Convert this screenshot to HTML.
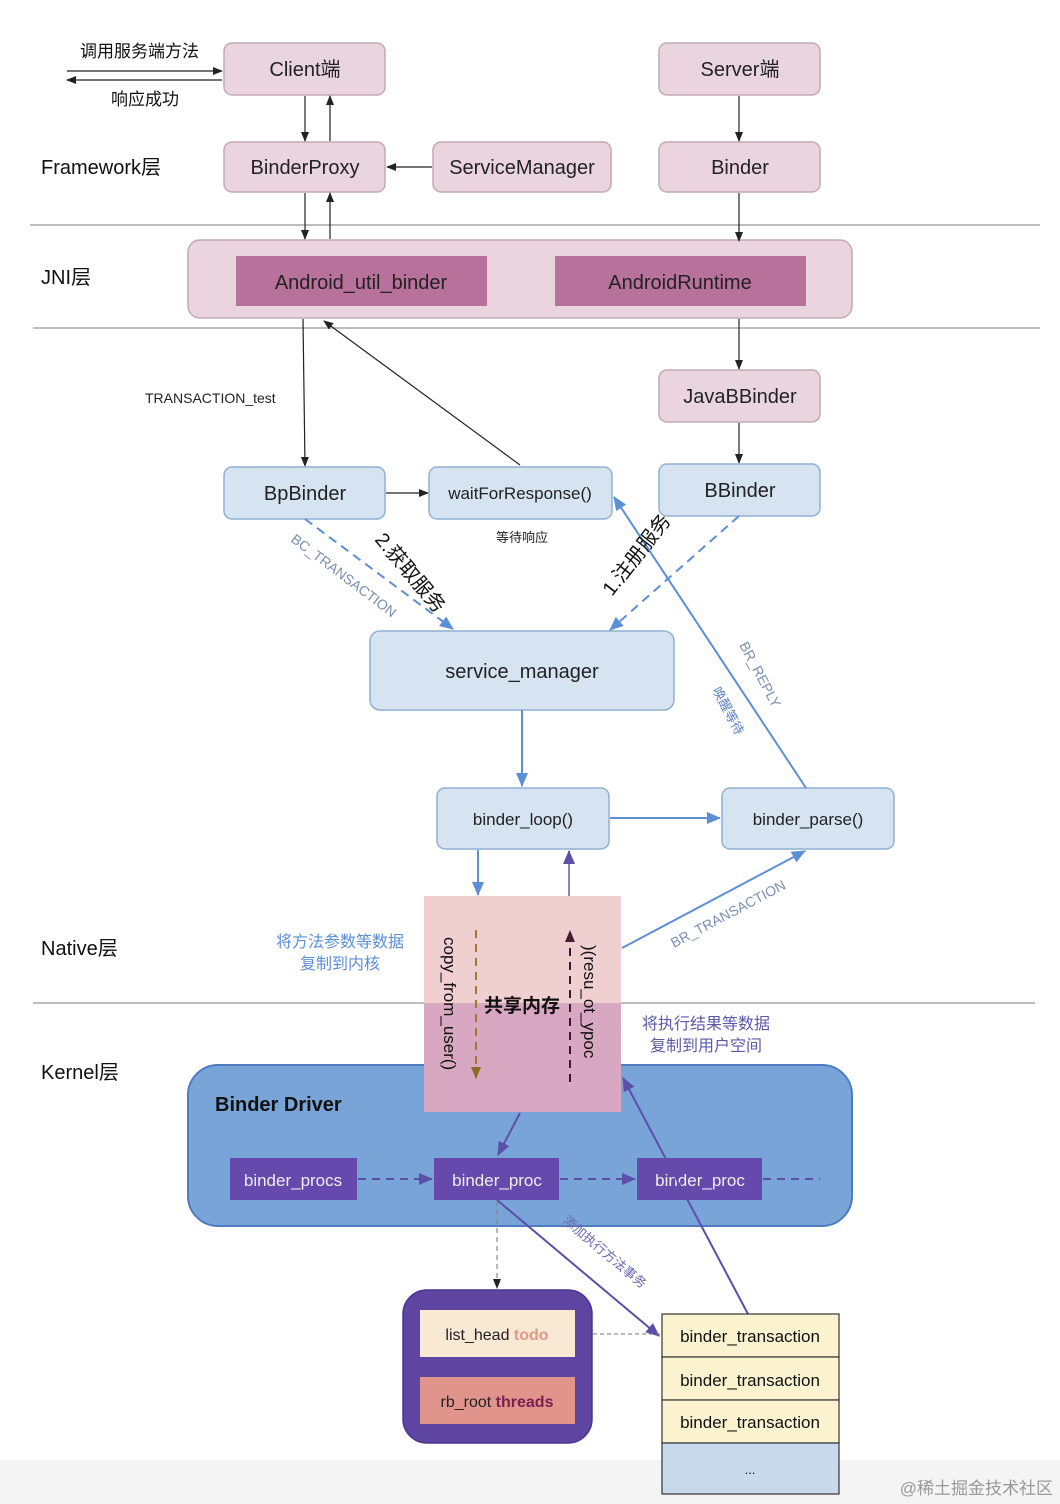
<!DOCTYPE html>
<html><head><meta charset="utf-8"><style>
html,body{margin:0;padding:0;background:#fff;}
svg{display:block;font-family:"Liberation Sans","Noto Sans CJK SC",sans-serif;}
</style></head><body>
<svg width="1060" height="1504" viewBox="0 0 1060 1504" xmlns="http://www.w3.org/2000/svg">
<defs>
<marker id="ab" markerWidth="10" markerHeight="10" refX="9" refY="5" orient="auto" markerUnits="userSpaceOnUse"><path d="M0,1 L10,5 L0,9 z" fill="#222"/></marker>
<marker id="ablue" markerWidth="14" markerHeight="14" refX="13" refY="7" orient="auto" markerUnits="userSpaceOnUse"><path d="M0,1 L14,7 L0,13 z" fill="#5b8fd6"/></marker>
<marker id="apur" markerWidth="14" markerHeight="14" refX="13" refY="7" orient="auto" markerUnits="userSpaceOnUse"><path d="M0,1 L14,7 L0,13 z" fill="#5c4fa8"/></marker>
<marker id="abrown" markerWidth="12" markerHeight="12" refX="11" refY="6" orient="auto" markerUnits="userSpaceOnUse"><path d="M0,1 L12,6 L0,11 z" fill="#8a6a20"/></marker>
<marker id="adark" markerWidth="12" markerHeight="12" refX="11" refY="6" orient="auto" markerUnits="userSpaceOnUse"><path d="M0,1 L12,6 L0,11 z" fill="#4a1a30"/></marker>
</defs>
<rect width="1060" height="1504" fill="#fff"/>
<rect x="0" y="1460" width="1060" height="44" fill="#f4f4f4"/>

<g stroke="#bdbdbd" stroke-width="2">
<line x1="30" y1="225" x2="1040" y2="225"/>
<line x1="33" y1="328" x2="1040" y2="328"/>
<line x1="33" y1="1003" x2="1035" y2="1003"/>
</g>
<g font-size="20" fill="#111">
<text x="41" y="174">Framework层</text>
<text x="41" y="284">JNI层</text>
<text x="41" y="955">Native层</text>
<text x="41" y="1079">Kernel层</text>
</g>

<text x="80" y="57" font-size="17" fill="#111">调用服务端方法</text>
<text x="111" y="105" font-size="17" fill="#111">响应成功</text>
<line x1="67" y1="71" x2="222" y2="71" stroke="#222" stroke-width="1.2" marker-end="url(#ab)"/>
<line x1="222" y1="80" x2="67" y2="80" stroke="#222" stroke-width="1.2" marker-end="url(#ab)"/>

<g fill="#ead5df" stroke="#c4a8b6" stroke-width="1.5">
<rect x="224" y="43" width="161" height="52" rx="8"/>
<rect x="659" y="43" width="161" height="52" rx="8"/>
<rect x="224" y="142" width="161" height="50" rx="8"/>
<rect x="433" y="142" width="178" height="50" rx="8"/>
<rect x="659" y="142" width="161" height="50" rx="8"/>
<rect x="188" y="240" width="664" height="78" rx="12"/>
<rect x="659" y="370" width="161" height="52" rx="8"/>
</g>
<rect x="236" y="256" width="251" height="50" fill="#b8719b"/>
<rect x="555" y="256" width="251" height="50" fill="#b8719b"/>
<g font-size="20" fill="#222" text-anchor="middle">
<text x="305" y="76">Client端</text>
<text x="740" y="76">Server端</text>
<text x="305" y="174">BinderProxy</text>
<text x="522" y="174">ServiceManager</text>
<text x="740" y="174">Binder</text>
<text x="361" y="289">Android_util_binder</text>
<text x="680" y="289">AndroidRuntime</text>
<text x="740" y="403">JavaBBinder</text>
</g>

<g stroke="#222" stroke-width="1.2" fill="none" marker-end="url(#ab)">
<line x1="305" y1="96" x2="305" y2="141"/>
<line x1="330" y1="141" x2="330" y2="96"/>
<line x1="305" y1="193" x2="305" y2="239"/>
<line x1="330" y1="239" x2="330" y2="193"/>
<line x1="432" y1="167" x2="387" y2="167"/>
<line x1="739" y1="96" x2="739" y2="141"/>
<line x1="739" y1="193" x2="739" y2="241"/>
<line x1="739" y1="319" x2="739" y2="369"/>
<line x1="739" y1="423" x2="739" y2="463"/>
<line x1="303" y1="319" x2="305" y2="466"/>
<line x1="520" y1="465" x2="324" y2="321"/>
<line x1="386" y1="493" x2="428" y2="493"/>
</g>
<text x="145" y="403" font-size="14" fill="#222">TRANSACTION_test</text>

<g fill="#d6e4f2" stroke="#8fb0d3" stroke-width="1.5">
<rect x="224" y="467" width="161" height="52" rx="8"/>
<rect x="429" y="467" width="183" height="52" rx="8"/>
<rect x="659" y="464" width="161" height="52" rx="8"/>
<rect x="370" y="631" width="304" height="79" rx="10"/>
<rect x="437" y="788" width="172" height="61" rx="8"/>
<rect x="722" y="788" width="172" height="61" rx="8"/>
</g>
<g fill="#222" text-anchor="middle">
<text x="305" y="500" font-size="20">BpBinder</text>
<text x="520" y="499" font-size="17">waitForResponse()</text>
<text x="740" y="497" font-size="20">BBinder</text>
<text x="522" y="678" font-size="20">service_manager</text>
<text x="523" y="825" font-size="17">binder_loop()</text>
<text x="808" y="825" font-size="17">binder_parse()</text>
<text x="522" y="542" font-size="13">等待响应</text>
</g>

<g stroke="#5b8fd6" stroke-width="2" stroke-dasharray="9,6" fill="none" marker-end="url(#ablue)">
<line x1="305" y1="519" x2="453" y2="629"/>
<line x1="739" y1="516" x2="610" y2="630"/>
</g>
<line x1="806" y1="788" x2="614" y2="497" stroke="#5b8fd6" stroke-width="2" marker-end="url(#ablue)"/>
<line x1="522" y1="710" x2="522" y2="786" stroke="#5b8fd6" stroke-width="2" marker-end="url(#ablue)"/>
<line x1="610" y1="818" x2="720" y2="818" stroke="#5b8fd6" stroke-width="2" marker-end="url(#ablue)"/>
<line x1="478" y1="850" x2="478" y2="895" stroke="#5b8fd6" stroke-width="2" marker-end="url(#ablue)"/>
<line x1="569" y1="896" x2="569" y2="851" stroke="#8a7fc8" stroke-width="2" marker-end="url(#apur)"/>
<line x1="622" y1="948" x2="805" y2="851" stroke="#5b8fd6" stroke-width="2" marker-end="url(#ablue)"/>

<g font-size="14" fill="#7a8fb0">
<text transform="translate(290,541) rotate(37)">BC_TRANSACTION</text>
<text transform="translate(739,645) rotate(62)">BR_REPLY</text>
<text transform="translate(674,948) rotate(-28)">BR_TRANSACTION</text>
</g>
<text transform="translate(712,690) rotate(62)" font-size="13" fill="#5b7fc0">唤醒等待</text>
<g font-size="20" fill="#111">
<text transform="translate(374,540) rotate(50)">2.获取服务</text>
<text transform="translate(612,597) rotate(-52)">1.注册服务</text>
</g>

<rect x="188" y="1065" width="664" height="161" rx="30" fill="#78a4d8" stroke="#4f7cc0" stroke-width="2"/>
<text x="215" y="1111" font-size="20" font-weight="bold" fill="#111">Binder Driver</text>

<rect x="424" y="896" width="197" height="107" fill="#f0cfd0"/>
<rect x="424" y="1003" width="197" height="109" fill="#d8a8c2"/>
<line x1="476" y1="930" x2="476" y2="1078" stroke="#a07a30" stroke-width="2" stroke-dasharray="8,6" marker-end="url(#abrown)"/>
<line x1="570" y1="1082" x2="570" y2="931" stroke="#3a1a28" stroke-width="2" stroke-dasharray="8,6" marker-end="url(#adark)"/>
<text transform="translate(444,937) rotate(90)" font-size="17" fill="#111">copy_from_user()</text>
<text transform="translate(584,945) rotate(90)" font-size="17" fill="#111">)(resu_ot_ypoc</text>
<text x="522" y="1012" font-size="19" font-weight="bold" fill="#111" text-anchor="middle">共享内存</text>
<g font-size="16" fill="#5b8fd6" text-anchor="middle">
<text x="340" y="947">将方法参数等数据</text>
<text x="340" y="969">复制到内核</text>
</g>
<g font-size="16" fill="#5c5aa8" text-anchor="middle">
<text x="706" y="1029">将执行结果等数据</text>
<text x="706" y="1051">复制到用户空间</text>
</g>

<g fill="#6649ac">
<rect x="230" y="1158" width="127" height="42"/>
<rect x="434" y="1158" width="125" height="42"/>
<rect x="637" y="1158" width="125" height="42"/>
</g>
<g font-size="17" fill="#eee" text-anchor="middle">
<text x="293" y="1186">binder_procs</text>
<text x="497" y="1186">binder_proc</text>
<text x="700" y="1186">binder_proc</text>
</g>
<g stroke="#5c4fa8" stroke-width="2" stroke-dasharray="8,6" fill="none">
<line x1="358" y1="1179" x2="432" y2="1179" marker-end="url(#apur)"/>
<line x1="560" y1="1179" x2="635" y2="1179" marker-end="url(#apur)"/>
<line x1="763" y1="1179" x2="820" y2="1179"/>
</g>
<line x1="520" y1="1113" x2="498" y2="1155" stroke="#5c4fa8" stroke-width="2" marker-end="url(#apur)"/>
<line x1="748" y1="1314" x2="623" y2="1078" stroke="#5c4fa8" stroke-width="2" marker-end="url(#apur)"/>
<line x1="497" y1="1200" x2="659" y2="1336" stroke="#5c4fa8" stroke-width="2" marker-end="url(#apur)"/>
<line x1="497" y1="1201" x2="497" y2="1288" stroke="#888" stroke-width="1.2" stroke-dasharray="5,4" marker-end="url(#ab)"/>
<text transform="translate(562,1222) rotate(40)" font-size="13" fill="#6a68b8">添加执行方法事务</text>

<rect x="403" y="1290" width="189" height="153" rx="24" fill="#5f45a2" stroke="#4a3590" stroke-width="1.5"/>
<rect x="420" y="1310" width="155" height="47" fill="#f8e8d4"/>
<rect x="420" y="1377" width="155" height="47" fill="#e0948c"/>
<text x="497" y="1340" font-size="16" text-anchor="middle"><tspan fill="#222">list_head </tspan><tspan fill="#e09a86" font-weight="bold"> todo</tspan></text>
<text x="497" y="1407" font-size="16" text-anchor="middle"><tspan fill="#222">rb_root </tspan><tspan fill="#7a2050" font-weight="bold"> threads</tspan></text>
<line x1="593" y1="1334" x2="660" y2="1334" stroke="#777" stroke-width="1" stroke-dasharray="4,3"/>

<g stroke="#333" stroke-width="1.2">
<rect x="662" y="1314" width="177" height="43" fill="#fbf3d0"/>
<rect x="662" y="1357" width="177" height="43" fill="#fbf3d0"/>
<rect x="662" y="1400" width="177" height="43" fill="#fbf3d0"/>
<rect x="662" y="1443" width="177" height="51" fill="#c9d9ec"/>
</g>
<g font-size="17" fill="#111" text-anchor="middle">
<text x="750" y="1342">binder_transaction</text>
<text x="750" y="1386">binder_transaction</text>
<text x="750" y="1428">binder_transaction</text>
<text x="750" y="1474" font-size="13">...</text>
</g>
<text x="1053" y="1494" font-size="17" fill="#999" text-anchor="end">@稀土掘金技术社区</text>
</svg>
</body></html>
